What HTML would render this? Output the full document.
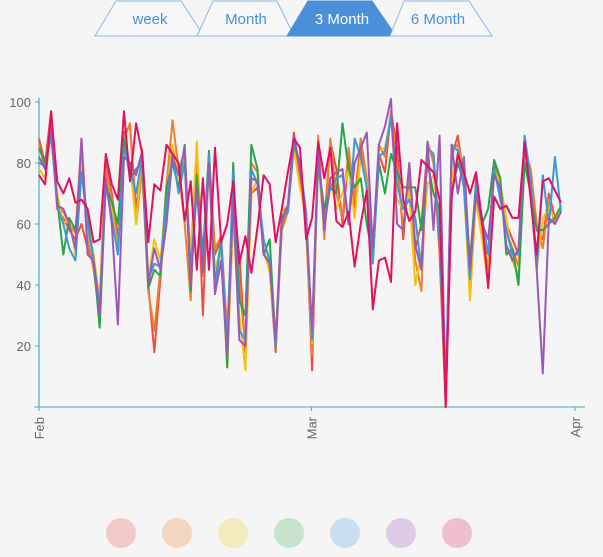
<!DOCTYPE html>
<html><head><meta charset="utf-8">
<style>
body{margin:0;background:#f5f5f5;font-family:"Liberation Sans",sans-serif;}
svg{display:block}
</style></head>
<body>
<svg id="chart" width="603" height="557" viewBox="0 0 603 557">
  <g>
    <polygon points="95,36 116,1 181,1 204,36" fill="#f7f7f7" stroke="#8cb8e8" stroke-width="1"/>
    <text x="150" y="24" text-anchor="middle" font-size="15" fill="#4a90d9">week</text>
    <polygon points="197,36 213,1 277,1 294,36" fill="#f7f7f7" stroke="#8cb8e8" stroke-width="1"/>
    <text x="246" y="24" text-anchor="middle" font-size="15" fill="#4a90d9">Month</text>
    <polygon points="287,36 308,1 372,1 396,36" fill="#4a90d9" stroke="#4a90d9" stroke-width="1"/>
    <text x="342" y="24" text-anchor="middle" font-size="15" fill="#ffffff">3 Month</text>
    <polygon points="390,36 404,1 469,1 492,36" fill="#f7f7f7" stroke="#8cb8e8" stroke-width="1"/>
    <text x="438" y="24" text-anchor="middle" font-size="15" fill="#4a90d9">6 Month</text>
  </g>
  <g id="axes"></g>
  <g id="series"></g>
  <g id="legend"></g>
</svg>
<script>
const yTicks = [20, 40, 60, 80, 100];
const xTickLabels = ['Feb', 'Mar', 'Apr'];
const xTickDays = [0, 30, 59];
const seriesNames = ['red', 'orange', 'yellow', 'green', 'blue', 'purple', 'crimson'];
const red = [88,80,97,65,62,58,55,60,52,47,35,80,70,55,90,92,65,80,40,18,42,70,85,77,80,40,82,30,83,50,55,20,65,50,18,70,72,52,45,18,60,66,90,75,62,12,85,60,87,78,60,82,65,85,72,50,83,77,97,85,55,78,52,60,85,83,50,0,82,89,75,40,75,55,50,80,72,60,55,50,85,75,58,55,70,62,65];
const orange = [86,78,95,66,64,60,57,88,55,45,30,78,68,52,88,93,60,78,38,25,45,73,94,78,60,35,85,43,82,52,56,25,68,40,20,80,77,50,48,20,58,64,88,78,58,17,89,55,88,70,62,85,68,88,75,50,86,82,97,80,58,75,48,38,87,80,55,2,84,86,78,45,72,58,45,78,70,58,52,46,85,78,60,52,68,60,66];
const yellow = [78,75,90,70,60,62,50,80,58,50,35,75,65,50,85,80,60,85,42,55,48,70,86,75,82,50,87,45,78,45,52,13,62,30,12,70,75,52,44,22,64,66,85,72,62,21,80,58,75,65,70,78,62,82,73,47,84,85,95,68,65,70,40,50,73,76,60,5,75,82,72,35,68,55,40,78,73,62,48,43,82,75,45,62,65,62,65];
const green = [85,80,89,68,50,62,58,77,62,48,26,73,67,60,88,75,78,80,39,45,43,72,80,72,86,38,76,50,84,40,55,13,80,35,30,86,78,50,55,20,62,64,86,80,60,25,80,65,72,70,93,78,72,75,60,49,80,70,83,77,72,72,72,58,80,70,65,3,70,80,74,48,73,60,65,81,75,50,52,40,80,70,58,58,60,62,66];
const blue = [80,79,90,66,60,52,48,77,60,48,33,73,62,50,85,78,70,82,42,47,46,66,83,70,80,45,72,46,83,38,55,20,77,25,22,78,73,55,48,20,62,64,87,80,64,22,83,60,72,75,76,60,88,82,72,47,82,84,95,73,65,68,62,45,85,83,55,5,86,84,72,42,73,62,50,78,68,58,50,50,89,75,45,76,60,82,64];
const purple = [82,78,92,66,65,60,52,88,50,48,30,75,60,27,82,80,76,84,40,52,45,60,82,76,85,40,72,44,80,37,48,17,68,22,20,75,74,50,47,22,62,66,89,78,62,25,85,58,75,77,78,60,80,85,90,52,86,92,101,60,58,80,53,45,87,58,89,3,86,70,82,45,70,60,55,76,72,53,48,52,86,70,45,11,62,60,64];
const crimson = [76,73,97,74,70,75,67,68,65,54,55,83,73,68,97,74,93,83,54,73,71,86,83,80,61,74,45,75,45,85,54,60,74,47,56,44,59,76,73,54,65,77,88,85,55,62,87,75,85,61,59,64,46,60,71,32,48,49,41,93,68,61,64,81,79,77,68,0,69,83,77,70,77,61,39,69,65,66,62,62,87,68,50,74,75,71,67];

const seriesData = [red, orange, yellow, green, blue, purple, crimson];
const colors = ['#e9503f','#ef7f2e','#f4c20d','#27a547','#3a9ad9','#9b59b6','#e0115f'];
const legendColors = ['#f2c9c6','#f2d6c2','#f4ebbd','#c6e4cd','#c7dfee','#ddcbe5','#edbfd0'];

const NS = 'http://www.w3.org/2000/svg';
const X0 = 39, X1 = 575, Y0 = 407, Y100 = 102;
const yScale = v => Y0 - (v / 100) * (Y0 - Y100);
const dayScale = d => X0 + (d / 59) * (X1 - X0);
const idxScale = (i, n) => X0 + (i / (n - 1)) * (561 - X0);

function mk(tag, attrs, parent) {
  const el = document.createElementNS(NS, tag);
  for (const k in attrs) el.setAttribute(k, attrs[k]);
  parent.appendChild(el);
  return el;
}
const axes = document.getElementById('axes');
const yAxis = mk('line', {x1: X0, y1: 98, x2: X0, y2: Y0, stroke: '#4aaab8', 'stroke-width': 1.2}, axes);


const xAxis = mk('line', {x1: 34, y1: Y0, x2: 585, y2: Y0, stroke: '#7cc3cc', 'stroke-width': 1.5}, axes);



yTicks.forEach(t => {
  const y = yScale(t);
  const tk = mk('line', {x1: 35, y1: y, x2: X0, y2: y, stroke: '#4aaab8', 'stroke-width': 1}, axes);
  
  
  const tx = mk('text', {x: 31, y: y + 5, 'text-anchor': 'end', 'font-size': 13, fill: '#666'}, axes);
  tx.textContent = t;
  
  
});
xTickLabels.forEach((lab, i) => {
  const x = dayScale(xTickDays[i]);
  const tk = mk('line', {x1: x, y1: Y0, x2: x, y2: Y0 + 4, stroke: '#4aaab8', 'stroke-width': 1}, axes);
  
  
  const tx = mk('text', {x: 0, y: 0, 'text-anchor': 'end', 'font-size': 13, fill: '#666',
    transform: 'translate(' + (x + 5) + ',' + (Y0 + 10) + ') rotate(-90)'}, axes);
  tx.textContent = lab;
  
  
});

const sg = document.getElementById('series');
seriesData.forEach((arr, s) => {
  const pts = arr.map((v, i) => idxScale(i, arr.length).toFixed(1) + ',' + yScale(v).toFixed(1)).join(' ');
  const pl = mk('polyline', {points: pts, fill: 'none', stroke: colors[s], 'stroke-width': 2, 'stroke-linejoin': 'round'}, sg);
  
  
});

const lg = document.getElementById('legend');
seriesNames.forEach((n, s) => {
  const c = mk('circle', {cx: 121 + s * 56, cy: 533, r: 15, fill: legendColors[s]}, lg);
  
  
});
</script>
</body></html>
